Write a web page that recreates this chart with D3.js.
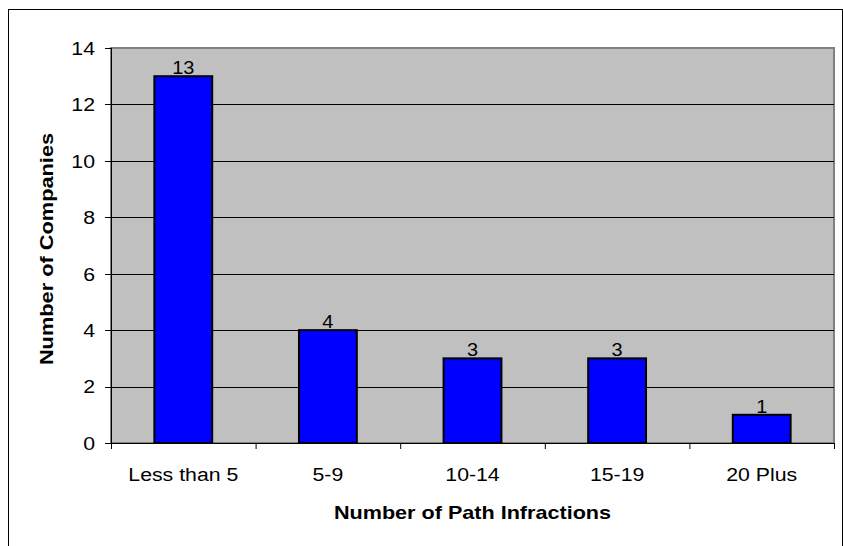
<!DOCTYPE html>
<html>
<head>
<meta charset="utf-8">
<script src="https://cdn.jsdelivr.net/npm/d3@7"></script>
<style>
  body { margin: 0; background: #fff; }
  text { font-family: Arial, "Liberation Sans", sans-serif; fill: #000; }
</style>
</head>
<body>
<svg id="svg-chart"></svg>
<script>
const width = 843;
const height = 546;
const margin = { left: 111, right: 9, top: 48, bottom: 103 };

const categories = ["Less than 5", "5-9", "10-14", "15-19", "20 Plus"];
const companies = [13, 4, 3, 3, 1];
const yTicks = [0, 2, 4, 6, 8, 10, 12, 14];

const svg = d3.select("#svg-chart").attr("width", width).attr("height", height);

const plotWidth = width - margin.left - margin.right;
const plotHeight = height - margin.top - margin.bottom;

const xScale = d3.scaleBand().domain(categories).range([0, plotWidth]).paddingInner(0.6).paddingOuter(0.3);
const xBand = d3.scaleBand().domain(categories).range([0, plotWidth]);
const yScale = d3.scaleLinear().domain([0, 14]).range([plotHeight, 0]);

// text in the original is drawn a bit wider than plain Arial
const wide = 1.12;

// outer chart frame (bottom edge is off the page)
svg.append("rect")
  .attr("x", 8.5).attr("y", 9.5)
  .attr("width", 834).attr("height", 560)
  .attr("fill", "none").attr("stroke", "#000").attr("stroke-width", 1);

const g = svg.append("g").attr("transform", "translate(" + margin.left + "," + margin.top + ")");

// plot area
g.append("rect")
  .attr("width", plotWidth).attr("height", plotHeight)
  .attr("fill", "#c0c0c0").attr("stroke", "#808080").attr("stroke-width", 2);

// gridlines
g.selectAll(".grid")
  .data(yTicks.filter(d => d > 0 && d < 14))
  .join("line")
  .attr("x1", 0).attr("x2", plotWidth)
  .attr("y1", d => Math.round(yScale(d)) + 0.5)
  .attr("y2", d => Math.round(yScale(d)) + 0.5)
  .attr("stroke", "#000").attr("stroke-width", 1);

// y axis line + ticks
g.append("line")
  .attr("x1", 0.5).attr("x2", 0.5)
  .attr("y1", 0).attr("y2", plotHeight)
  .attr("stroke", "#000");
g.selectAll(".ytick")
  .data(yTicks)
  .join("line")
  .attr("x1", -6).attr("x2", 0)
  .attr("y1", d => Math.round(yScale(d)) + 0.5)
  .attr("y2", d => Math.round(yScale(d)) + 0.5)
  .attr("stroke", "#000");
g.selectAll(".ylabel")
  .data(yTicks)
  .join("text")
  .attr("transform", d => "translate(-16," + yScale(d) + ") scale(" + wide + ",1)")
  .attr("dy", "0.36em")
  .attr("text-anchor", "end")
  .attr("font-size", 19)
  .text(d => d);

// x axis with ticks at category boundaries
g.append("line")
  .attr("x1", 0).attr("x2", plotWidth)
  .attr("y1", plotHeight + 0.5).attr("y2", plotHeight + 0.5)
  .attr("stroke", "#000");
g.selectAll(".xtick")
  .data(d3.range(categories.length + 1))
  .join("line")
  .attr("x1", i => i * xBand.bandwidth() + 0.5)
  .attr("x2", i => i * xBand.bandwidth() + 0.5)
  .attr("y1", plotHeight).attr("y2", plotHeight + 6)
  .attr("stroke", "#000");
g.selectAll(".xlabel")
  .data(categories)
  .join("text")
  .attr("transform", d => "translate(" + (xBand(d) + xBand.bandwidth() / 2) + "," + (plotHeight + 38) + ") scale(" + wide + ",1)")
  .attr("text-anchor", "middle")
  .attr("font-size", 19)
  .text(d => d);

// bars
g.selectAll(".bar")
  .data(companies)
  .join("rect")
  .attr("x", (d, i) => xScale(categories[i]))
  .attr("y", d => yScale(d))
  .attr("width", xScale.bandwidth())
  .attr("height", d => plotHeight - yScale(d))
  .attr("fill", "#0000ff")
  .attr("stroke", "#000")
  .attr("stroke-width", 2);

// value labels
g.selectAll(".val")
  .data(companies)
  .join("text")
  .attr("transform", (d, i) => "translate(" + (xScale(categories[i]) + xScale.bandwidth() / 2) + "," + (yScale(d) - 2) + ") scale(1.05,1)")
  .attr("text-anchor", "middle")
  .attr("font-size", 19)
  .text(d => d);

// axis titles
svg.append("text")
  .attr("transform", "translate(" + (margin.left + plotWidth / 2) + ",519) scale(1.2,1)")
  .attr("text-anchor", "middle")
  .attr("font-size", 18)
  .attr("font-weight", "bold")
  .text("Number of Path Infractions");

svg.append("text")
  .attr("transform", "translate(53,249) rotate(-90) scale(1.21,1)")
  .attr("text-anchor", "middle")
  .attr("font-size", 18)
  .attr("font-weight", "bold")
  .text("Number of Companies");
</script>
</body>
</html>
